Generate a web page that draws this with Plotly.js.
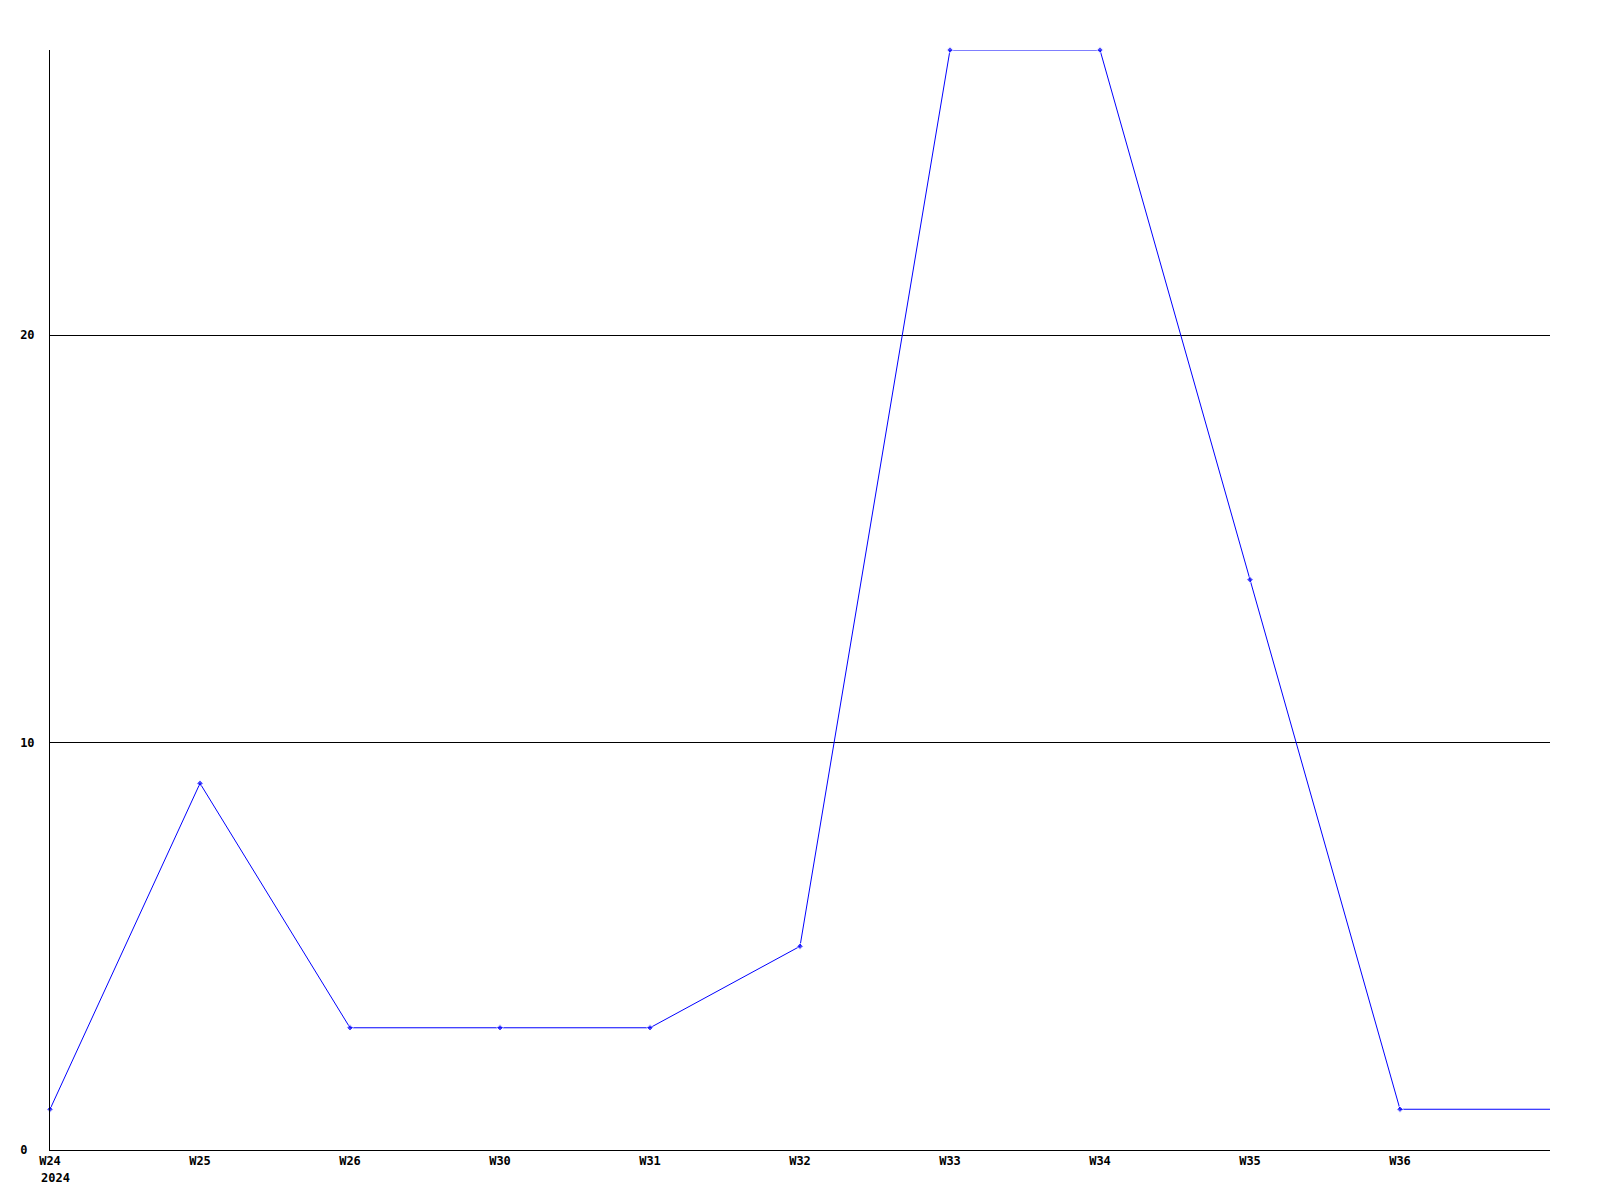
<!DOCTYPE html>
<html>
<head>
<meta charset="utf-8">
<script src="https://cdn.plot.ly/plotly-3.0.1.min.js"></script>
<style>html,body{margin:0;padding:0;background:#fff;}#chart{width:1600px;height:1200px;}</style>
</head>
<body>
<div id="chart"></div>
<script>
// Weekly labels (last point continues to the right edge without a label)
const weekLabels = ['W24', 'W25', 'W26', 'W30', 'W31', 'W32', 'W33', 'W34', 'W35', 'W36', ''];
const values = [1, 9, 3, 3, 3, 5, 27, 27, 14, 1, 1];
const yearLabel = '2024';
const yTickVals = [0, 10, 20];
const yTickText = ['0\u00a0', '10', '20'];

const xIdx = weekLabels.map((_, i) => i);
const fontSpec = {family: '"DejaVu Sans Mono", "Liberation Mono", monospace', size: 12, color: '#000', weight: 'bold'};

const trace = {
  x: xIdx,
  y: values,
  type: 'scatter',
  mode: 'lines+markers',
  line: {color: '#0000ff', width: 1},
  marker: {color: '#0000ff', size: weekLabels.map(l => l ? 5 : 0), symbol: 'diamond'},
  cliponaxis: false,
  hoverinfo: 'skip'
};

const layout = {
  width: 1600,
  height: 1200,
  margin: {l: 50, r: 50, t: 50, b: 50},
  paper_bgcolor: '#fff',
  plot_bgcolor: '#fff',
  showlegend: false,
  font: fontSpec,
  xaxis: {
    range: [0, weekLabels.length - 1],
    tickmode: 'array',
    tickvals: xIdx.slice(0, weekLabels.length - 1),
    ticktext: weekLabels.slice(0, weekLabels.length - 1),
    showgrid: false,
    zeroline: false,
    showline: true,
    linecolor: '#000',
    linewidth: 1,
    ticks: '',
    tickfont: fontSpec,
    fixedrange: true
  },
  yaxis: {
    range: [0, 27],
    tickmode: 'array',
    tickvals: yTickVals,
    ticktext: yTickText,
    showgrid: true,
    gridcolor: '#000',
    gridwidth: 1,
    zeroline: false,
    showline: true,
    linecolor: '#000',
    linewidth: 1,
    ticks: '',
    tickfont: fontSpec,
    ticklabelstandoff: 12,
    fixedrange: true
  },
  annotations: [{
    x: 0, y: 0, xref: 'x', yref: 'paper',
    text: yearLabel, showarrow: false,
    xanchor: 'left', yanchor: 'top',
    xshift: -11, yshift: -19,
    font: fontSpec
  }]
};

Plotly.newPlot('chart', [trace], layout, {staticPlot: true, displayModeBar: false});
</script>
</body>
</html>
